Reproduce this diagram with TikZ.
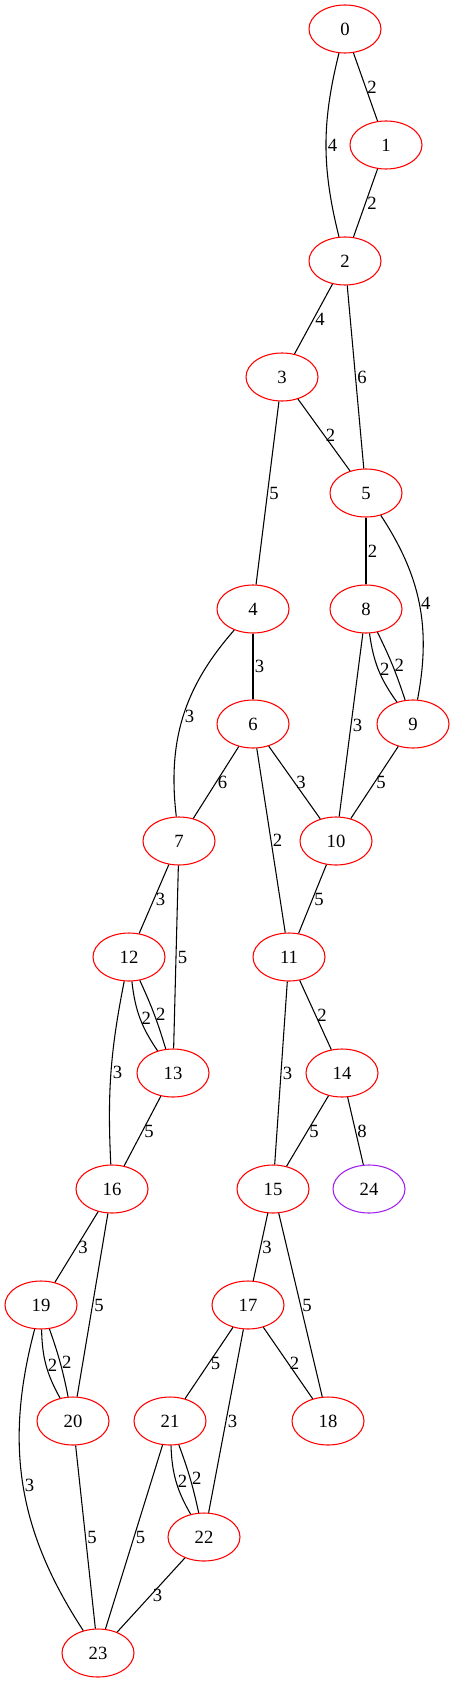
\documentclass[tikz,border=0pt]{standalone}
\usepackage{fontspec}
\setmainfont{Liberation Serif}
\usetikzlibrary{shapes.geometric}
\definecolor{vpurple}{RGB}{160,32,240}
\begin{document}
\begin{tikzpicture}[x=0.75pt,y=0.75pt]
\tikzstyle{vx} = [ellipse,draw=red,line width=0.8pt,minimum width=54pt,minimum height=36pt,inner sep=0pt,font=\fontsize{14}{16}\selectfont] %vertex
\tikzstyle{de} = [-,line width=0.8pt] %edge
\tikzstyle{wt} = [midway,anchor=west,inner sep=1pt,font=\fontsize{14}{16}\selectfont] %weight
\useasboundingbox (0,0) rectangle (455,-1683);
\node[vx](v0)at(345,-29){0};
\node[vx](v1)at(386,-145){1};
\node[vx](v2)at(345,-261){2};
\node[vx](v3)at(282,-377){3};
\node[vx](v5)at(366,-493){5};
\node[vx](v4)at(253,-609){4};
\node[vx](v8)at(366,-609){8};
\node[vx](v6)at(253,-724){6};
\node[vx](v9)at(413,-724){9};
\node[vx](v7)at(179,-841){7};
\node[vx](v10)at(336,-841){10};
\node[vx](v12)at(129,-957){12};
\node[vx](v11)at(289,-957){11};
\node[vx](v13)at(173,-1073){13};
\node[vx](v14)at(342,-1073){14};
\node[vx](v16)at(112,-1189){16};
\node[vx](v15)at(273,-1189){15};
\node[vx,draw=vpurple](v24)at(369,-1189){24};
\node[vx](v19)at(41,-1305){19};
\node[vx](v17)at(248,-1305){17};
\node[vx](v20)at(73,-1421){20};
\node[vx](v21)at(170,-1421){21};
\node[vx](v18)at(328,-1421){18};
\node[vx](v22)at(204,-1537){22};
\node[vx](v23)at(98,-1653){23};
\draw[de](v0) to[bend right=14] node[wt]{4} (v2);
\draw[de](v0)--(v1) node[wt]{2};
\draw[de](v1)--(v2) node[wt]{2};
\draw[de](v2)--(v3) node[wt]{4};
\draw[de](v2)--(v5) node[wt]{6};
\draw[de](v3)--(v5) node[wt]{2};
\draw[de](v3)--(v4) node[wt]{5};
\draw[de](v5)--(v8) node[wt]{2};
\draw[de](v5) to[bend left=22] node[wt]{4} (v9);
\draw[de](v8) to[bend right=14] node[wt]{2} (v9);
\draw[de](v8) to[bend left=4] node[wt]{2} (v9);
\draw[de](v8)--(v10) node[wt]{3};
\draw[de](v4)--(v6) node[wt]{3};
\draw[de](v4) to[bend right=24] node[wt]{3} (v7);
\draw[de](v6)--(v7) node[wt]{6};
\draw[de](v6)--(v10) node[wt]{3};
\draw[de](v6)--(v11) node[wt]{2};
\draw[de](v9)--(v10) node[wt]{5};
\draw[de](v7)--(v12) node[wt]{3};
\draw[de](v7)--(v13) node[wt]{5};
\draw[de](v10)--(v11) node[wt]{5};
\draw[de](v12) to[bend right=14] node[wt]{2} (v13);
\draw[de](v12) to[bend left=4] node[wt]{2} (v13);
\draw[de](v12) to[bend right=7] node[wt]{3} (v16);
\draw[de](v11)--(v14) node[wt]{2};
\draw[de](v11)--(v15) node[wt]{3};
\draw[de](v13)--(v16) node[wt]{5};
\draw[de](v14)--(v15) node[wt]{5};
\draw[de](v14)--(v24) node[wt]{8};
\draw[de](v16)--(v19) node[wt]{3};
\draw[de](v16)--(v20) node[wt]{5};
\draw[de](v15)--(v17) node[wt]{3};
\draw[de](v15)--(v18) node[wt]{5};
\draw[de](v19) to[bend right=14] node[wt]{2} (v20);
\draw[de](v19) to[bend left=4] node[wt]{2} (v20);
\draw[de](v19) to[bend right=24] node[wt]{3} (v23);
\draw[de](v17)--(v21) node[wt]{5};
\draw[de](v17)--(v18) node[wt]{2};
\draw[de](v17)--(v22) node[wt]{3};
\draw[de](v21) to[bend right=14] node[wt]{2} (v22);
\draw[de](v21) to[bend left=4] node[wt]{2} (v22);
\draw[de](v20)--(v23) node[wt]{5};
\draw[de](v21)--(v23) node[wt]{5};
\draw[de](v22)--(v23) node[wt]{3};
\end{tikzpicture}
\end{document}
